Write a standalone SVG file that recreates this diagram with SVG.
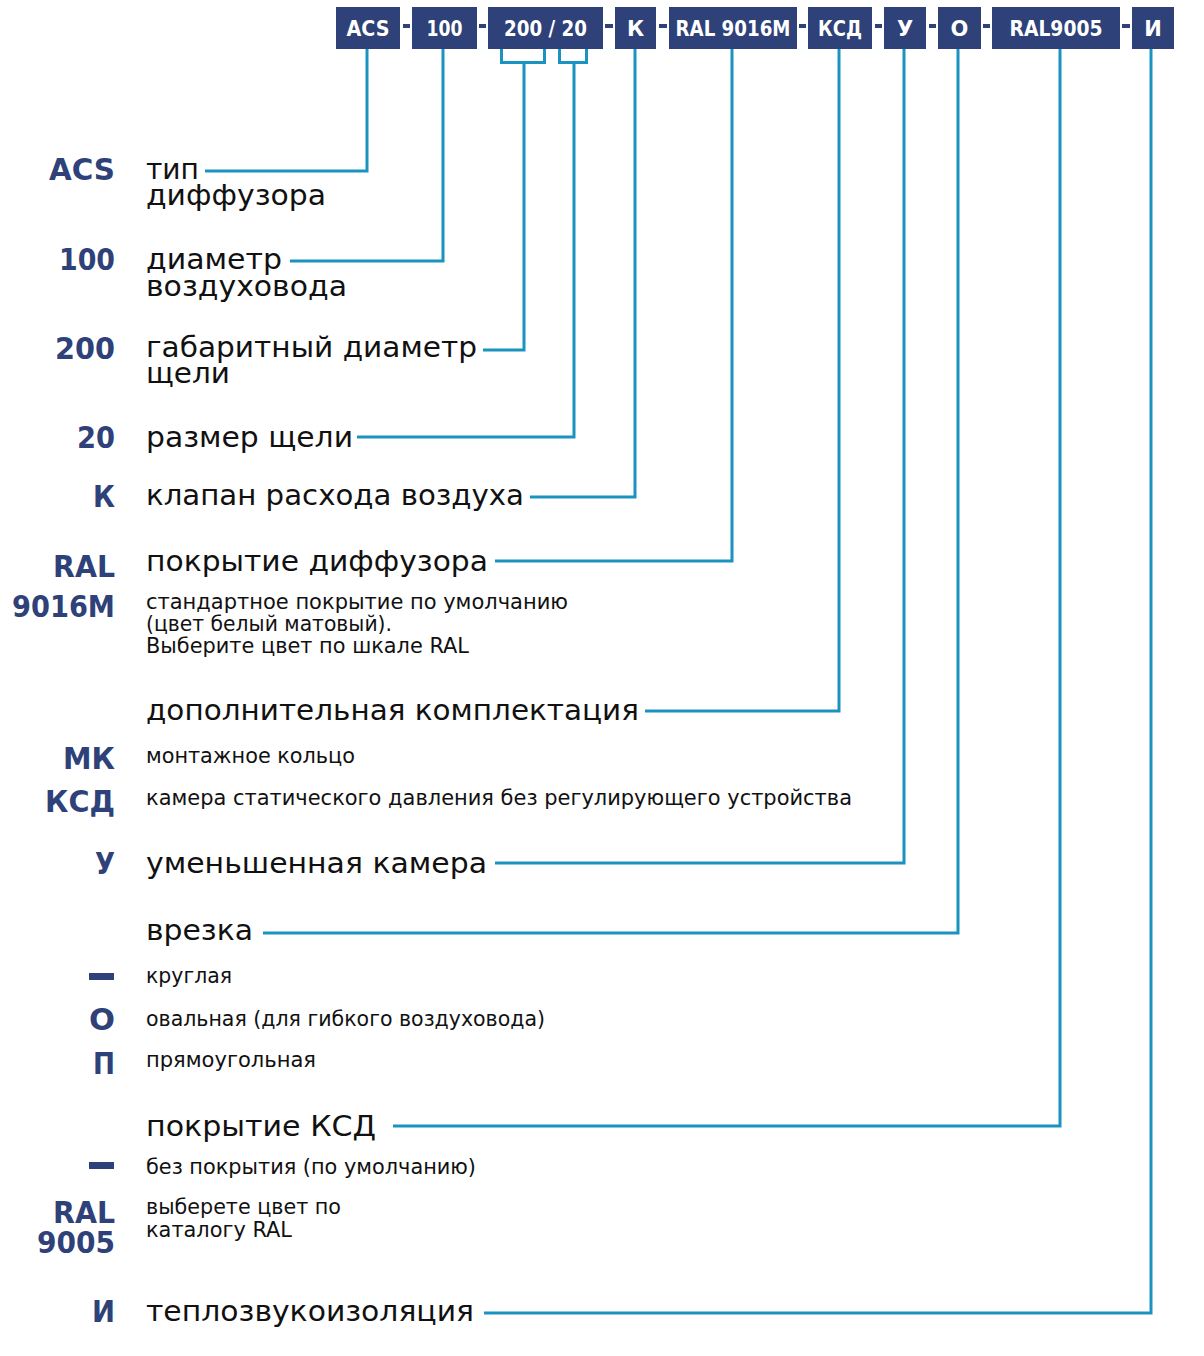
<svg xmlns="http://www.w3.org/2000/svg" width="1204" height="1356" viewBox="0 0 1204 1356">
<style>
.box{fill:#2e4178}
text{font-family:"DejaVu Sans",sans-serif}
.bt{font-weight:bold;font-size:21px;fill:#fff;text-anchor:middle}
.dash{fill:#2e4178}
.lbl{font-weight:bold;font-size:30px;fill:#2e4178;text-anchor:end}
.t{font-size:28px;fill:#111}
.s{font-size:20.5px;fill:#111}
.con{fill:none;stroke:#1a93c1;stroke-width:3}
</style>
<rect width="1204" height="1356" fill="#fff"/>
<g id="code">
<g id="n-acs"><rect class="box" x="336" y="7" width="64" height="42"/><text class="bt" x="368" y="36" textLength="43" lengthAdjust="spacingAndGlyphs">ACS</text></g>
<rect class="dash" x="403" y="24" width="7" height="4"/>
<g id="n-100"><rect class="box" x="412" y="7" width="65" height="42"/><text class="bt" x="444.5" y="36" textLength="36" lengthAdjust="spacingAndGlyphs">100</text></g>
<rect class="dash" x="479" y="24" width="7" height="4"/>
<g id="n-200"><rect class="box" x="488" y="7" width="115" height="42"/><text class="bt" x="545.5" y="36" textLength="83" lengthAdjust="spacingAndGlyphs">200 / 20</text></g>
<rect class="dash" x="605" y="24" width="8" height="4"/>
<g id="n-k"><rect class="box" x="615" y="7" width="41" height="42"/><text class="bt" x="635.5" y="36">К</text></g>
<rect class="dash" x="659" y="24" width="8" height="4"/>
<g id="n-ral9016"><rect class="box" x="669" y="7" width="128" height="42"/><text class="bt" x="733" y="36" textLength="115" lengthAdjust="spacingAndGlyphs">RAL 9016M</text></g>
<rect class="dash" x="799" y="24" width="7" height="4"/>
<g id="n-ksd"><rect class="box" x="808" y="7" width="64" height="42"/><text class="bt" x="840" y="36" textLength="44" lengthAdjust="spacingAndGlyphs">КСД</text></g>
<rect class="dash" x="875" y="24" width="7" height="4"/>
<g id="n-u"><rect class="box" x="884" y="7" width="42" height="42"/><text class="bt" x="905" y="36">У</text></g>
<rect class="dash" x="929" y="24" width="7" height="4"/>
<g id="n-o"><rect class="box" x="938" y="7" width="43" height="42"/><text class="bt" x="959.5" y="36">О</text></g>
<rect class="dash" x="983" y="24" width="7" height="4"/>
<g id="n-ral9005"><rect class="box" x="992" y="7" width="128" height="42"/><text class="bt" x="1056" y="36" textLength="93" lengthAdjust="spacingAndGlyphs">RAL9005</text></g>
<rect class="dash" x="1122" y="24" width="8" height="4"/>
<g id="n-i"><rect class="box" x="1132" y="7" width="42" height="42"/><text class="bt" x="1153" y="36">И</text></g>
</g>
<g id="connectors">
<path class="con" d="M367 49V171H205"/>
<path class="con" d="M443 49V261H290"/>
<path class="con" d="M501.5 49V62.5H544.5V49M524 62.5V350H483"/>
<path class="con" d="M559.5 49V62.5H586.5V49M574 62.5V437H357"/>
<path class="con" d="M635 49V497H530"/>
<path class="con" d="M732 49V561H495"/>
<path class="con" d="M839 49V711H645"/>
<path class="con" d="M904 49V863H495"/>
<path class="con" d="M958 49V933H263"/>
<path class="con" d="M1060 49V1126H393"/>
<path class="con" d="M1151 49V1313H484"/>
</g>
<g id="d-acs"><text class="lbl" x="115" y="180" textLength="66" lengthAdjust="spacingAndGlyphs">ACS</text>
<text class="t" x="146" y="179" textLength="53" lengthAdjust="spacingAndGlyphs">тип</text><text class="t" x="146" y="205" textLength="180" lengthAdjust="spacingAndGlyphs">диффузора</text></g>
<g id="d-100"><text class="lbl" x="115" y="270" textLength="56" lengthAdjust="spacingAndGlyphs">100</text>
<text class="t" x="146" y="269" textLength="136" lengthAdjust="spacingAndGlyphs">диаметр</text><text class="t" x="146" y="296" textLength="201" lengthAdjust="spacingAndGlyphs">воздуховода</text></g>
<g id="d-200"><text class="lbl" x="115" y="359" textLength="60" lengthAdjust="spacingAndGlyphs">200</text>
<text class="t" x="146" y="357" textLength="331" lengthAdjust="spacingAndGlyphs">габаритный диаметр</text><text class="t" x="146" y="383" textLength="84" lengthAdjust="spacingAndGlyphs">щели</text></g>
<g id="d-20"><text class="lbl" x="115" y="448" textLength="38" lengthAdjust="spacingAndGlyphs">20</text>
<text class="t" x="146" y="447" textLength="207" lengthAdjust="spacingAndGlyphs">размер щели</text></g>
<g id="d-k"><text class="lbl" x="115" y="507" textLength="22" lengthAdjust="spacingAndGlyphs">К</text>
<text class="t" x="146" y="505" textLength="378" lengthAdjust="spacingAndGlyphs">клапан расхода воздуха</text></g>
<g id="d-ral9016"><text class="lbl" x="115" y="577" textLength="62" lengthAdjust="spacingAndGlyphs">RAL</text><text class="lbl" x="115" y="617" textLength="103" lengthAdjust="spacingAndGlyphs">9016M</text>
<text class="t" x="146" y="571" textLength="342" lengthAdjust="spacingAndGlyphs">покрытие диффузора</text>
<text class="s" x="146" y="609" textLength="422" lengthAdjust="spacingAndGlyphs">стандартное покрытие по умолчанию</text>
<text class="s" x="146" y="631" textLength="246" lengthAdjust="spacingAndGlyphs">(цвет белый матовый).</text>
<text class="s" x="146" y="653" textLength="323" lengthAdjust="spacingAndGlyphs">Выберите цвет по шкале RAL</text></g>
<g id="d-ksd"><text class="t" x="146" y="720" textLength="493" lengthAdjust="spacingAndGlyphs">дополнительная комплектация</text>
<text class="lbl" x="115" y="769" textLength="52" lengthAdjust="spacingAndGlyphs">МК</text><text class="s" x="146" y="763" textLength="209" lengthAdjust="spacingAndGlyphs">монтажное кольцо</text>
<text class="lbl" x="115" y="812" textLength="70" lengthAdjust="spacingAndGlyphs">КСД</text><text class="s" x="146" y="805" textLength="706" lengthAdjust="spacingAndGlyphs">камера статического давления без регулирующего устройства</text></g>
<g id="d-u"><text class="lbl" x="115" y="874" textLength="20" lengthAdjust="spacingAndGlyphs">У</text>
<text class="t" x="146" y="873" textLength="341" lengthAdjust="spacingAndGlyphs">уменьшенная камера</text></g>
<g id="d-o"><text class="t" x="146" y="940" textLength="107" lengthAdjust="spacingAndGlyphs">врезка</text>
<rect class="dash" x="89" y="973" width="25" height="7"/><text class="s" x="146" y="983" textLength="86" lengthAdjust="spacingAndGlyphs">круглая</text>
<text class="lbl" x="115" y="1030" textLength="26" lengthAdjust="spacingAndGlyphs">О</text><text class="s" x="146" y="1026" textLength="399" lengthAdjust="spacingAndGlyphs">овальная (для гибкого воздуховода)</text>
<text class="lbl" x="115" y="1074" textLength="22" lengthAdjust="spacingAndGlyphs">П</text><text class="s" x="146" y="1067" textLength="170" lengthAdjust="spacingAndGlyphs">прямоугольная</text></g>
<g id="d-ral9005"><text class="t" x="146" y="1136" textLength="230" lengthAdjust="spacingAndGlyphs">покрытие КСД</text>
<rect class="dash" x="89" y="1162" width="25" height="7"/><text class="s" x="146" y="1174" textLength="330" lengthAdjust="spacingAndGlyphs">без покрытия (по умолчанию)</text>
<text class="lbl" x="115" y="1223" textLength="62" lengthAdjust="spacingAndGlyphs">RAL</text><text class="lbl" x="115" y="1253" textLength="78" lengthAdjust="spacingAndGlyphs">9005</text>
<text class="s" x="146" y="1214" textLength="195" lengthAdjust="spacingAndGlyphs">выберете цвет по</text><text class="s" x="146" y="1237" textLength="146" lengthAdjust="spacingAndGlyphs">каталогу RAL</text></g>
<g id="d-i"><text class="lbl" x="115" y="1322" textLength="23" lengthAdjust="spacingAndGlyphs">И</text>
<text class="t" x="146" y="1321" textLength="328" lengthAdjust="spacingAndGlyphs">теплозвукоизоляция</text></g>
</svg>
